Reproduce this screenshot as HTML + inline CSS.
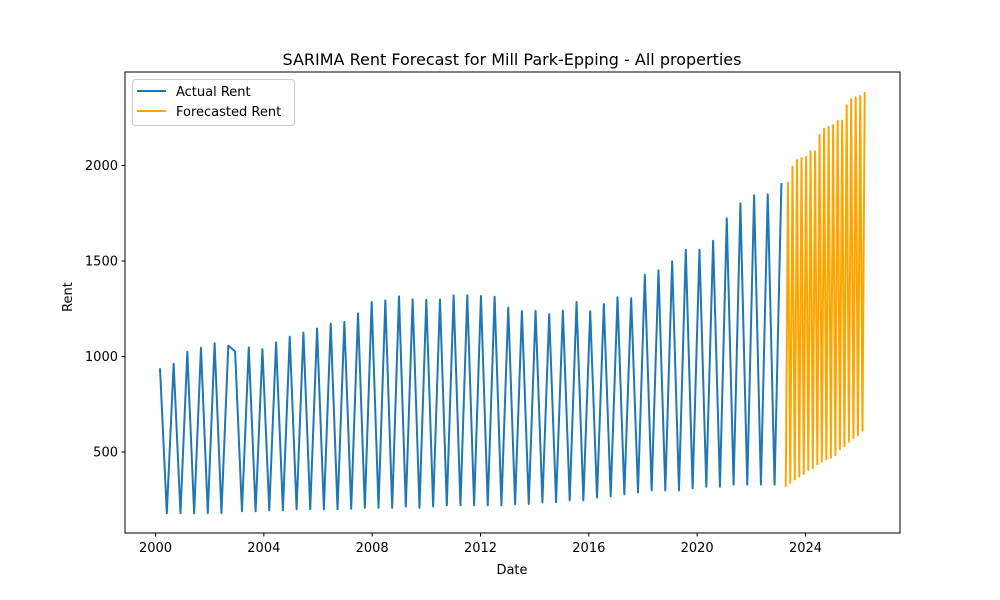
<!DOCTYPE html>
<html><head><meta charset="utf-8"><style>
body{margin:0;background:#fff}
svg{display:block;font-family:"DejaVu Sans","Liberation Sans",sans-serif}
</style></head><body>
<svg id="chart" width="1000" height="600" viewBox="0 0 1000 600">
<rect x="0" y="0" width="1000" height="600" fill="#fff"/>
<text x="512" y="65" text-anchor="middle" font-size="16" fill="#000">SARIMA Rent Forecast for Mill Park-Epping - All properties</text>
<g id="plot"></g>
<rect x="125" y="72" width="775" height="461" fill="none" stroke="#000" stroke-width="1"/>
<text x="512" y="574" text-anchor="middle" font-size="13">Date</text>
<text x="0" y="0" transform="translate(72,297) rotate(-90)" text-anchor="middle" font-size="13">Rent</text>
<g>
<rect x="132.5" y="79.5" width="162" height="46" rx="3" fill="#fff" fill-opacity="0.8" stroke="#ccc"/>
<line x1="137" y1="91" x2="166" y2="91" stroke="#1f77b4" stroke-width="2"/>
<text x="176" y="96" font-size="13">Actual Rent</text>
<line x1="137" y1="111" x2="166" y2="111" stroke="#ffa500" stroke-width="2"/>
<text x="176" y="116" font-size="13">Forecasted Rent</text>
</g>
</svg>
<script>
const actualStart = 2000.166, actualEnd = 2023.11;
const actualValues = [938,179,962,179,1025,179,1046,180,1069,180,1057,1027,190,1048,190,1038,195,1074,195,1104,200,1125,200,1146,200,1172,200,1181,203,1226,208,1285,208,1294,208,1315,215,1299,208,1297,215,1299,221,1320,221,1320,221,1317,221,1313,221,1256,226,1238,228,1238,237,1221,237,1240,247,1285,247,1237,261,1275,268,1310,278,1305,289,1428,299,1451,299,1498,299,1559,310,1559,318,1606,318,1723,329,1802,329,1844,329,1849,329,1908];
const forecastStart = 2023.27, forecastStep = 1/12;
const forecastValues = [318,1910,339,1994,357,2029,371,2039,385,2046,406,2074,415,2074,436,2160,449,2193,462,2203,470,2212,484,2233,514,2235,531,2315,554,2347,572,2357,587,2364,611,2385];
const xTicks = [2000,2004,2008,2012,2016,2020,2024];
const yTicks = [500,1000,1500,2000];

const NS = "http://www.w3.org/2000/svg";
const svg = document.getElementById('chart');
const plot = document.getElementById('plot');
const xs = d => 155.5 + (d - 2000) * (650/24);
const ys = v => 452 - (v - 500) * 0.191;
function mk(tag, attrs, parent){const e=document.createElementNS(NS,tag);for(const k in attrs)e.setAttribute(k,attrs[k]);(parent||svg).appendChild(e);return e;}

xTicks.forEach(t=>{
  const x=xs(t);
  const l=mk('line',{x1:x,y1:533,x2:x,y2:536.5,stroke:'#000','stroke-width':1});
  
  
  const tx=mk('text',{x:x,y:552,'text-anchor':'middle','font-size':13});
  tx.textContent=t;
  
  
});
yTicks.forEach(t=>{
  const y=ys(t);
  const l=mk('line',{x1:121.5,y1:y,x2:125,y2:y,stroke:'#000','stroke-width':1});
  
  
  const tx=mk('text',{x:118,y:y+4.5,'text-anchor':'end','font-size':13});
  tx.textContent=t;
  
  
});

const n=actualValues.length;
const ap=actualValues.map((v,i)=>xs(actualStart+(actualEnd-actualStart)*i/(n-1)).toFixed(2)+','+ys(v).toFixed(2)).join(' ');
const a=mk('polyline',{points:ap,fill:'none',stroke:'#1f77b4','stroke-width':2,'stroke-linejoin':'round'},plot);


const fp=forecastValues.map((v,i)=>xs(forecastStart+forecastStep*i).toFixed(2)+','+ys(v).toFixed(2)).join(' ');
const f=mk('polyline',{points:fp,fill:'none',stroke:'#ffa500','stroke-width':2,'stroke-linejoin':'round'},plot);


</script>
</body></html>
